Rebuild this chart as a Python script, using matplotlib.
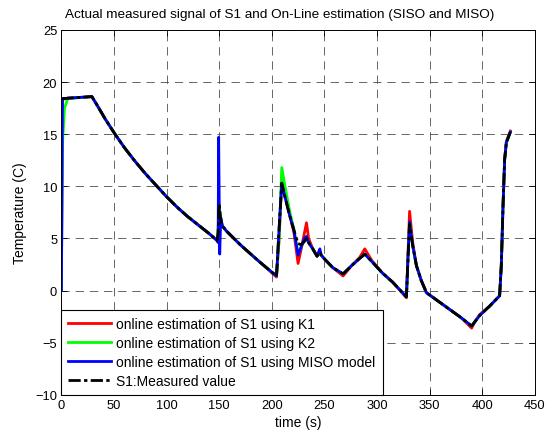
import matplotlib
matplotlib.use("Agg")
import matplotlib.pyplot as plt

plt.rcParams['font.family'] = ['Liberation Sans', 'DejaVu Sans']

# Time base (s)
t = [0, 1, 3, 6, 29, 35, 42, 51, 60, 70, 80, 90, 100, 110, 120, 130, 140, 148,
     149, 149.5, 150, 150.5, 151.5, 153, 157, 170, 180, 189,
     204.5, 207, 209.5, 212, 217, 221, 225, 228, 231, 233, 235, 239, 243,
     245.7, 247, 250.4, 258, 267.8, 276, 283.7, 288.4, 295, 305, 315,
     328, 329.5, 331, 334, 337.5, 342, 347, 358, 369, 380, 390, 393, 397.6,
     407, 416.6, 418.2, 419.8, 421.4, 423, 426.8]

# Measured temperature of S1 (C)
s1_measured = [18.4, 18.4, 18.4, 18.45, 18.6, 17.6, 16.4, 15.0, 13.7, 12.4, 11.2, 10.1, 9.0, 8.0, 7.1, 6.3, 5.5, 4.8,
               5.6, 7.0, 8.3, 7.8, 6.8, 6.2, 5.7, 4.4, 3.5, 2.7,
               1.4, 6.0, 10.3, 9.2, 7.2, 5.8, 4.5, 4.4, 4.7, 5.0, 4.6, 4.0, 3.3,
               3.7, 3.4, 3.0, 2.2, 1.6, 2.4, 3.1, 3.5, 2.8, 1.7, 0.8,
               -0.6, 3.0, 6.4, 4.3, 2.4, 1.0, -0.2, -1.0, -1.8, -2.6, -3.4, -3.0, -2.4,
               -1.5, -0.5, 2.4, 8.0, 12.6, 14.2, 15.2]

# On-line estimate using K1
est_k1 = [0.0, 18.4, 18.4, 18.45, 18.6, 17.6, 16.4, 15.0, 13.7, 12.4, 11.2, 10.1, 9.0, 8.0, 7.1, 6.3, 5.5, 4.8,
          5.0, 7.5, 8.0, 7.5, 6.8, 6.2, 5.7, 4.4, 3.5, 2.7,
          1.3, 5.0, 10.6, 9.4, 7.3, 5.6, 2.6, 4.0, 5.5, 6.5, 5.0, 4.0, 3.3,
          3.6, 3.4, 3.0, 2.2, 1.4, 2.4, 3.2, 4.0, 2.9, 1.7, 0.8,
          -0.7, 3.5, 7.6, 4.6, 2.4, 1.0, -0.2, -1.0, -1.8, -2.6, -3.6, -3.0, -2.3,
          -1.5, -0.5, 2.4, 8.0, 12.6, 14.3, 15.3]

# On-line estimate using K2
est_k2 = [0.0, 14.0, 17.5, 18.4, 18.6, 17.6, 16.4, 15.0, 13.7, 12.4, 11.2, 10.1, 9.0, 8.0, 7.1, 6.3, 5.5, 4.8,
          5.4, 7.5, 8.2, 7.6, 6.9, 6.2, 5.7, 4.4, 3.5, 2.7,
          1.4, 5.0, 11.8, 10.3, 7.6, 5.9, 3.5, 4.2, 4.8, 5.0, 4.6, 4.0, 3.3,
          3.7, 3.4, 3.0, 2.2, 1.6, 2.4, 3.1, 3.5, 2.8, 1.7, 0.8,
          -0.6, 3.0, 6.5, 4.3, 2.4, 1.0, -0.2, -1.0, -1.8, -2.6, -3.4, -3.0, -2.4,
          -1.5, -0.5, 2.4, 8.0, 12.6, 14.2, 15.2]

# On-line estimate using the MISO model
est_miso = [0.0, 18.4, 18.4, 18.45, 18.6, 17.6, 16.4, 15.0, 13.7, 12.4, 11.2, 10.1, 9.0, 8.0, 7.1, 6.3, 5.5, 4.8,
            4.6, 14.7, 9.0, 3.5, 7.0, 6.2, 5.7, 4.4, 3.5, 2.7,
            1.4, 6.0, 10.3, 9.2, 7.2, 5.8, 3.4, 4.2, 5.0, 5.2, 4.6, 4.0, 3.3,
            4.0, 3.4, 3.0, 2.2, 1.6, 2.4, 3.1, 3.5, 2.8, 1.7, 0.8,
            -0.6, 3.2, 6.6, 4.3, 2.4, 1.0, -0.2, -1.0, -1.8, -2.6, -3.4, -3.0, -2.4,
            -1.5, -0.5, 2.4, 8.0, 12.6, 14.2, 15.2]

x_ticks = [0, 50, 100, 150, 200, 250, 300, 350, 400, 450]
y_ticks = [-10, -5, 0, 5, 10, 15, 20, 25]

fig = plt.figure(figsize=(5.53, 4.35), dpi=100)
ax = fig.add_axes([0.111, 0.090, 0.856, 0.839])

lw = 2.0
ax.plot(t, est_k1, color='#ff0000', lw=lw, label='online estimation of S1 using K1')
ax.plot(t, est_k2, color='#00ff00', lw=lw, label='online estimation of S1 using K2')
ax.plot(t, est_miso, color='#0000ff', lw=lw, label='online estimation of S1 using MISO model')
ax.plot(t, s1_measured, color='k', lw=lw, linestyle=(0, (4.4, 1.2, 1.2, 1.2)),
        label='S1:Measured value')

ax.set_xlim(0, 450)
ax.set_ylim(-10, 25)
ax.set_xticks(x_ticks)
ax.set_yticks(y_ticks)
ax.tick_params(direction='in', length=4, width=0.6, top=True, right=True,
               labelsize=9.3, pad=3)
for sp in ax.spines.values():
    sp.set_linewidth(0.7)

ax.grid(True, color='0.3', linestyle=(0, (10, 7)), linewidth=0.6)

ax.set_title('Actual measured signal of S1 and On-Line estimation (SISO and MISO)',
             fontsize=9.7, pad=9.5, x=0.462)
ax.set_xlabel('time (s)', fontsize=10, labelpad=3)
ax.set_ylabel('Temperature (C)', fontsize=10, labelpad=6)

leg = ax.legend(loc='lower left', fontsize=10, frameon=True, fancybox=False,
                edgecolor='k', framealpha=1, borderaxespad=0.0,
                handlelength=3.1, labelspacing=0.35, borderpad=0.5,
                handletextpad=0.36)
leg.get_frame().set_linewidth(0.8)

fig.savefig('out.png', dpi=100, facecolor='white')
